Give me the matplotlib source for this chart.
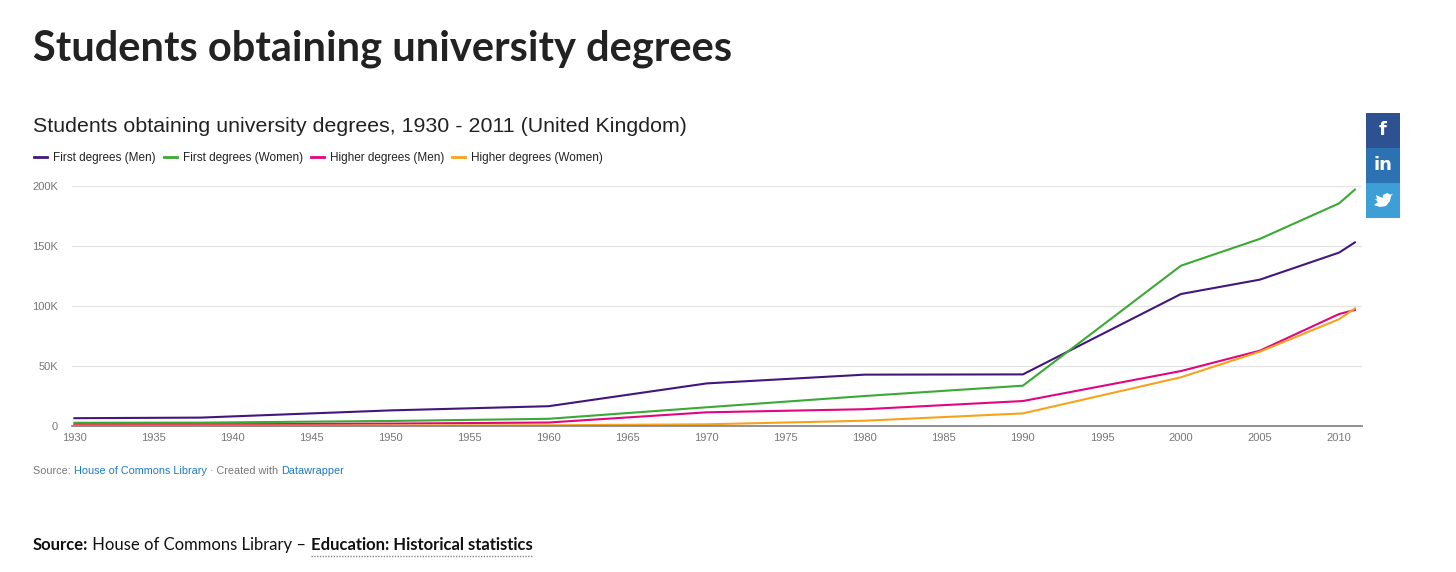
import matplotlib
matplotlib.use('Agg')
import matplotlib.pyplot as plt
from matplotlib.patches import Rectangle, Polygon
from matplotlib.ticker import FuncFormatter

years = [1930, 1938, 1950, 1960, 1970, 1980, 1990, 2000, 2005, 2010, 2011]
first_men = [6500, 7000, 13000, 16500, 35500, 42800, 43000, 110000, 122000, 144500, 153000]
first_women = [2700, 2800, 4200, 6000, 15600, 25000, 33600, 133600, 156000, 185500, 197000]
higher_men = [1200, 1300, 2000, 2900, 11400, 14000, 20800, 45800, 62800, 93300, 96700]
higher_women = [300, 300, 400, 600, 1400, 4400, 10500, 40600, 62000, 89000, 98000]

series_names = ['First degrees (Men)', 'First degrees (Women)',
                'Higher degrees (Men)', 'Higher degrees (Women)']
series_colors = ['#43167e', '#3aa935', '#e0067f', '#f6a21d']
x_ticks = list(range(1930, 2011, 5))
y_ticks = [0, 50000, 100000, 150000, 200000]

W, H = 1456, 572
fig = plt.figure(figsize=(W / 100, H / 100), dpi=100)
fig.patch.set_facecolor('white')

ax = fig.add_axes([72 / W, 1 - 426 / H, (1362 - 72) / W, (426 - 186) / H])
for vals, name, col in zip([first_men, first_women, higher_men, higher_women],
                           series_names, series_colors):
    ax.plot(years, vals, color=col, lw=1.5, label=name, clip_on=False, zorder=3)

ax.set_xlim(1929.85, 2011.45)
ax.set_ylim(0, 200000)
ax.set_xticks(x_ticks)
ax.set_yticks(y_ticks)
ax.yaxis.set_major_formatter(FuncFormatter(lambda v, p: '0' if v == 0 else '%dK' % (v / 1000)))
ax.tick_params(axis='both', length=0, labelsize=8, labelcolor='#777777', labelfontfamily='Liberation Sans')
ax.tick_params(axis='x', pad=5)
ax.tick_params(axis='y', pad=10)
ax.grid(axis='y', color='#e4e4e4', lw=0.9)
ax.set_axisbelow(True)
for s in ['top', 'right', 'left']:
    ax.spines[s].set_visible(False)
ax.spines['bottom'].set_color('#888888')
ax.spines['bottom'].set_linewidth(1.3)
ax.spines['bottom'].set_zorder(4)

fig.text(33 / W, 1 - 49 / H, 'Students obtaining university degrees', fontsize=30,
         fontweight='bold', family='Lato', color='#222222', va='center', ha='left')
fig.text(33 / W, 1 - 126 / H, 'Students obtaining university degrees, 1930 - 2011 (United Kingdom)',
         fontsize=15.4, family='Liberation Sans', color='#222222', va='center', ha='left')

leg = fig.legend(loc='center left', bbox_to_anchor=(28 / W, 1 - 158 / H), ncol=4, frameon=False,
                 handlelength=1.1, handletextpad=0.5, columnspacing=0.7, borderpad=0,
                 prop={'family': 'Liberation Sans', 'size': 8.5})
for t in leg.get_texts():
    t.set_color('#222222')
for h in leg.legend_handles:
    h.set_linewidth(2)


def text_runs(x_px, y_px, runs, size, family):
    renderer = fig.canvas.get_renderer()
    x = x_px / W
    for txt, col, weight in runs:
        t = fig.text(x, 1 - y_px / H, txt, fontsize=size, family=family, color=col,
                     fontweight=weight, va='center', ha='left')
        bb = t.get_window_extent(renderer=renderer)
        x = bb.x1 / W
    return x


text_runs(33, 471, [('Source: ', '#777777', 'normal'),
                    ('House of Commons Library', '#1d7ac6', 'normal'),
                    (' \u00b7 Created with ', '#777777', 'normal'),
                    ('Datawrapper', '#1d7ac6', 'normal')], 7.8, 'Liberation Sans')

x0 = text_runs(33, 545, [('Source:', '#111111', 'bold'),
                         (' House of Commons Library \u2013 ', '#111111', 'normal')], 12, 'Lato')
x1 = text_runs(x0 * W, 545, [('Education: Historical statistics', '#111111', 'bold')], 12, 'Lato')
fig.add_artist(plt.Line2D([x0, x1], [1 - 556 / H, 1 - 556 / H], color='#888888', lw=1,
                          ls=(0, (1, 1)), transform=fig.transFigure))

# share buttons
btn_colors = ['#2e5191', '#2c72b2', '#3d9fd5']
btn_labels = ['f', 'in', '']
for i, (c, lab) in enumerate(zip(btn_colors, btn_labels)):
    y_top = 113 + i * 35
    fig.add_artist(Rectangle((1366 / W, 1 - (y_top + 35) / H), 34 / W, 35 / H,
                             facecolor=c, edgecolor='none', transform=fig.transFigure))
    if lab:
        fig.text(1383 / W, 1 - (y_top + 17) / H, lab, color='white', fontsize=13,
                 fontweight='bold', family='DejaVu Sans', ha='center', va='center')

# rough twitter bird
bird = [(-9, 5), (-3, 7), (3, 6), (7, 1), (8, -4), (10, -6), (7, -5.5), (4, -7),
        (0, -5), (-0.5, -2), (-7, -5), (-6, -1), (-8, -1), (-5, 2), (-9, 5)]
fig.add_artist(Polygon([((1383 + bx) / W, 1 - (200 + by) / H) for bx, by in bird],
                       closed=True, facecolor='white', edgecolor='none',
                       transform=fig.transFigure))

fig.savefig('out.png', dpi=100, facecolor='white')
